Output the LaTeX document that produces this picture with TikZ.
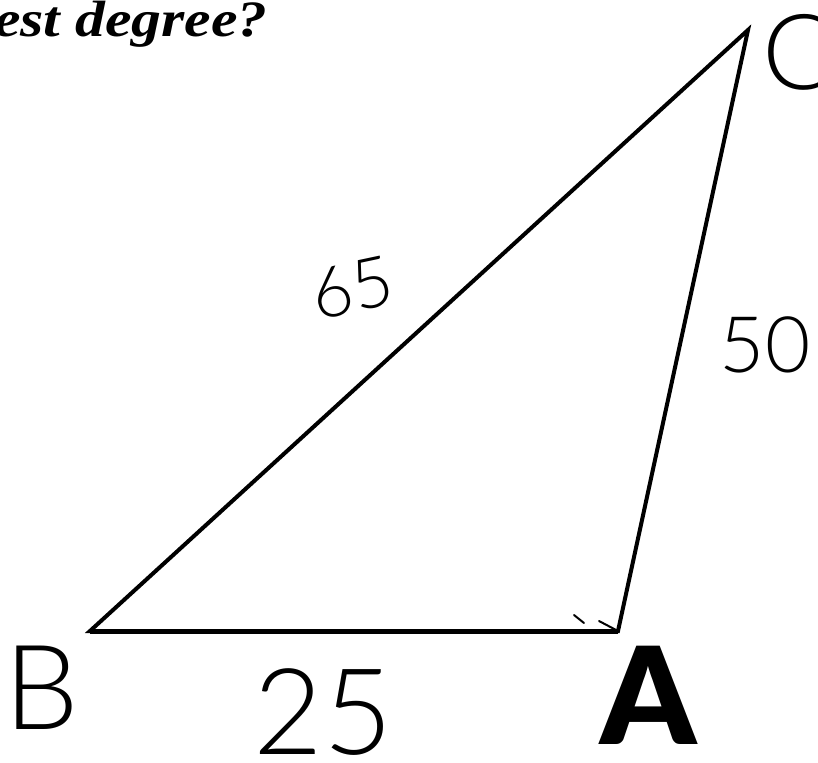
\documentclass[tikz,border=0pt]{standalone}
\usepackage{fontspec}
\setmainfont{Liberation Serif}
\newfontfamily\titlefont{Liberation Serif}[FakeStretch=1.17]
\newfontfamily\hand{Lato Light}
\newfontfamily\handbold{Lato}[BoldFont={Lato Black}]
\begin{document}
\begin{tikzpicture}[x=1pt,y=-1pt,
  side/.style={line width=4pt, line join=miter},
  pen/.style={line width=2pt, line cap=round},
  hw/.style={inner sep=0pt, font=\hand\fontsize{#1}{#1}\selectfont},
  hw/.default=80]
\useasboundingbox (0,0) rectangle (818,762);
% vertices
\coordinate (B) at (90,631);
\coordinate (A) at (618,631);
\coordinate (C) at (748,30);
\draw[side] (B) -- (A) -- (C) -- cycle;
\draw[line width=5pt] (B) -- (A);
% pen marks near A
\coordinate (m1) at (574,615);
\coordinate (m2) at (584,623);
\coordinate (m3) at (599,621);
\draw[pen] (m1) -- (m2);
\draw[pen] (m3) -- (A);
% title fragment
\node[anchor=base west, inner sep=0pt, font=\titlefont\bfseries\itshape\fontsize{51}{51}\selectfont] (title) at (-6,37) {est degree?};
% handwritten labels
\node[hw=105] (labC) at (798,52) {C};
\node[hw=118] (labB) at (42,688) {B};
\node[hw=120] (lab25) at (323,712) {25};
\node[hw=70, rotate=12] (lab65) at (352,288) {65};
\node[hw=78] (lab50) at (765,345) {50};
\node[inner sep=0pt, font=\handbold\bfseries\fontsize{135}{135}\selectfont] (labA) at (648,695) {A};
\end{tikzpicture}
\end{document}
